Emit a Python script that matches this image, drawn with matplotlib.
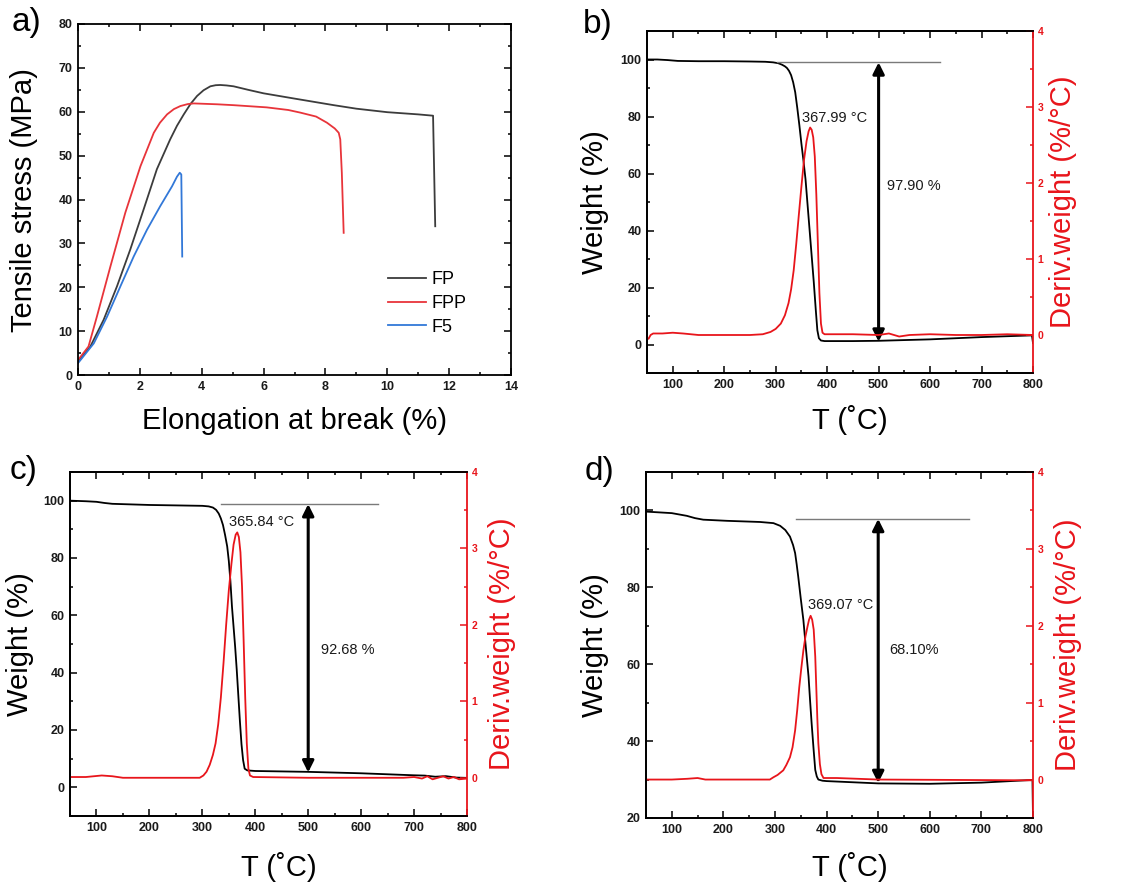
import matplotlib
matplotlib.use("Agg")
import matplotlib.pyplot as plt
from matplotlib.ticker import MultipleLocator

plt.rcParams['font.family'] = ['Liberation Sans', 'DejaVu Sans']

W, H = 1136, 886

#### Data

# a) tensile curves
fp_x = [0, 0.4, 0.83, 1.26, 1.69, 2.12, 2.55, 2.98, 3.2, 3.42, 3.64, 3.85, 4.06, 4.28, 4.45, 4.6, 4.8, 5.03, 5.5,
        6.0, 7.0, 8.27, 9.0, 10.0, 11.0, 11.48, 11.55]
fp_y = [3.0, 6.5, 12.6, 20.2, 28.6, 37.7, 46.9, 53.7, 56.8, 59.4, 61.8, 63.6, 64.9, 65.8, 66.05, 66.1, 66.0, 65.8,
        65.0, 64.2, 63.0, 61.5, 60.7, 59.9, 59.4, 59.1, 33.9]
fpp_x = [0, 0.34, 0.61, 1.05, 1.53, 2.02, 2.45, 2.65, 2.88, 3.1, 3.31, 3.55, 3.74, 4.5, 5.03, 6.1, 6.8, 7.19, 7.7,
         8.05, 8.3, 8.43, 8.48, 8.53, 8.59]
fpp_y = [3.4, 6.5, 13.3, 24.8, 37.0, 47.6, 55.2, 57.5, 59.4, 60.6, 61.3, 61.75, 61.9, 61.7, 61.5, 61.0, 60.4, 59.8,
         58.9, 57.5, 56.2, 55.2, 53.7, 46.1, 32.4]
f5_x = [0, 0.51, 0.94, 1.37, 1.8, 2.23, 2.66, 3.04, 3.2, 3.29, 3.34, 3.37]
f5_y = [2.7, 7.2, 13.3, 20.2, 27.0, 33.1, 38.5, 43.0, 45.2, 46.1, 45.7, 27.0]

# b) TGA / DTG
b_T = [50, 70, 90, 110, 150, 200, 250, 280, 295, 305, 312, 318, 322, 326, 330, 334, 338, 342, 346, 350, 354, 358,
       362, 366, 370, 374, 378, 381, 384, 388, 395, 450, 500, 600, 700, 798, 800]
b_w = [100.0, 100.0, 99.8, 99.5, 99.4, 99.4, 99.3, 99.2, 99.0, 98.7, 98.2, 97.6, 97.0, 96.0, 94.5, 92.0, 88.5, 83.0,
       77.0, 70.5, 64.5, 58.0, 49.0, 40.0, 31.0, 22.0, 12.0, 5.0, 2.2, 1.4, 1.2, 1.2, 1.3, 1.8, 2.6, 3.2, 0.5]
b_Td = [50, 53, 57, 62, 80, 100, 120, 150, 200, 250, 275, 290, 300, 310, 318, 325, 330, 335, 340, 345, 350, 355, 360,
        364, 367, 370, 373, 376, 379, 382, 385, 388, 391, 395, 450, 500, 520, 540, 560, 600, 650, 700, 750, 800]
b_d = [-0.04, -0.05, 0.0, 0.02, 0.02, 0.03, 0.02, 0.0, 0.0, 0.0, 0.01, 0.04, 0.08, 0.15, 0.26, 0.42, 0.6, 0.85, 1.2,
       1.58, 1.95, 2.3, 2.55, 2.68, 2.73, 2.7, 2.6, 2.35, 1.85, 1.2, 0.55, 0.15, 0.03, 0.01, 0.01, 0.0, 0.02, -0.02,
       0.0, 0.01, 0.0, 0.0, 0.01, 0.0]

# c) TGA / DTG
c_T = [50, 80, 100, 115, 130, 200, 300, 312, 320, 326, 331, 335, 339, 343, 347, 350, 353, 356, 359, 362, 365, 368,
       371, 374, 377, 380, 385, 400, 500, 600, 700, 720, 740, 760, 780, 800]
c_w = [100.0, 99.8, 99.6, 99.2, 98.9, 98.5, 98.2, 98.0, 97.6, 96.8, 95.5, 93.8, 91.5, 88.0, 84.0, 79.0, 72.0, 63.0,
       56.0, 49.0, 41.0, 32.0, 23.0, 15.0, 9.5, 6.5, 5.9, 5.7, 5.4, 4.9, 4.2, 4.1, 3.7, 3.9, 3.4, 3.3]
c_Td = [50, 80, 110, 130, 150, 200, 295, 302, 308, 314, 320, 325, 330, 335, 340, 345, 350, 355, 359, 363, 366, 369,
        372, 375, 378, 381, 384, 387, 390, 396, 500, 600, 680, 700, 715, 725, 735, 745, 755, 765, 775, 785, 800]
c_d = [0.01, 0.01, 0.03, 0.02, 0.0, 0.0, 0.0, 0.03, 0.08, 0.17, 0.3, 0.45, 0.7, 1.05, 1.5, 2.0, 2.45, 2.8, 3.05,
       3.18, 3.21, 3.15, 2.95, 2.5, 1.8, 1.05, 0.45, 0.12, 0.03, 0.01, 0.0, 0.0, 0.0, 0.01, -0.01, 0.02, -0.02, 0.0,
       0.02, -0.01, 0.01, -0.02, -0.01]

# d) TGA / DTG
d_T = [50, 75, 100, 129, 145, 161, 207, 271, 297, 310, 320, 329, 335, 339, 342, 345, 350, 355, 360, 365, 368, 371,
       375, 378, 381, 384, 392, 400, 500, 600, 700, 799, 800]
d_w = [99.7, 99.5, 99.3, 98.6, 98.0, 97.6, 97.3, 97.0, 96.7, 96.0, 94.9, 93.2, 91.0, 88.9, 86.0, 82.8, 77.0, 71.5,
       64.0, 56.8, 50.5, 44.6, 37.5, 32.5, 30.8, 30.0, 29.7, 29.6, 29.0, 28.9, 29.2, 29.9, 20.0]
d_Td = [50, 100, 130, 150, 165, 200, 290, 297, 305, 316, 322, 329, 334, 339, 343, 347, 351, 355, 359, 363, 366, 369,
        372, 375, 378, 380, 382, 384, 387, 390, 394, 420, 500, 800]
d_d = [0.0, 0.0, 0.01, 0.02, 0.0, 0.0, 0.0, 0.03, 0.06, 0.12, 0.19, 0.29, 0.42, 0.64, 0.9, 1.2, 1.45, 1.68, 1.86,
       1.99, 2.08, 2.13, 2.08, 1.95, 1.6, 1.2, 0.8, 0.47, 0.2, 0.07, 0.02, 0.02, 0.0, -0.01]

# annotation texts
b_peak, b_loss = "367.99 °C", "97.90 %"
c_peak, c_loss = "365.84 °C", "92.68 %"
d_peak, d_loss = "369.07 °C", "68.10%"

RED = "#e8151b"
LABEL_FS = 21


def box(l, t, r, b):
    return [l / W, 1 - b / H, (r - l) / W, (b - t) / H]


def fx(x):
    return x / W


def fy(y):
    return 1 - y / H


def style(ax, labelsize=9, color='#1a1a1a'):
    ax.tick_params(which='both', direction='in', top=True, width=1.1, pad=4)
    ax.tick_params(which='major', length=5)
    ax.tick_params(which='minor', length=2.5)
    for lab in ax.get_xticklabels() + ax.get_yticklabels():
        lab.set_fontsize(labelsize)
        lab.set_fontweight('bold')
        lab.set_color(color)
    for s in ax.spines.values():
        s.set_linewidth(1.3)


fig = plt.figure(figsize=(W / 100, H / 100), dpi=100)

#### a) tensile
ax = fig.add_axes(box(78, 24, 511, 375))
ax.plot(fp_x, fp_y, color="#3c3c3c", lw=1.3, label="FP")
ax.plot(fpp_x, fpp_y, color="#e8343a", lw=1.3, label="FPP")
ax.plot(f5_x, f5_y, color="#3278d8", lw=1.3, label="F5")
ax.set_xlim(0, 14)
ax.set_ylim(0, 80)
ax.xaxis.set_major_locator(MultipleLocator(2))
ax.xaxis.set_minor_locator(MultipleLocator(1))
ax.yaxis.set_major_locator(MultipleLocator(10))
ax.yaxis.set_minor_locator(MultipleLocator(5))
style(ax)
ax.tick_params(which='both', right=True)
ax.legend(loc='upper left', bbox_to_anchor=((388 - 78) / 433, (375 - 271) / 351),
          frameon=False, fontsize=13, handlelength=2.1, handletextpad=0.3,
          labelspacing=0.38, borderpad=0, borderaxespad=0)
fig.text(fx(24), fy(200), "Tensile stress (MPa)", rotation=90, ha='center', va='center', fontsize=LABEL_FS)
fig.text(fx(294), fy(421), "Elongation at break (%)", ha='center', va='center', fontsize=LABEL_FS)
fig.text(fx(12), fy(22), "a)", ha='left', va='center', fontsize=24)


#### TGA panels
def tga(bx, T, w, Td, d, ylo, line_y, line_x0, line_x1, arrow_lo, peak, peak_xy, loss, loss_xy,
        tag, tag_xy, ylab_x, rlab_x, xlab_y):
    l, t, r, b = bx
    ax = fig.add_axes(box(l, t, r, b))
    ax2 = ax.twinx()
    ax.plot(T, w, color='k', lw=1.3)
    ax2.plot(Td, d, color=RED, lw=1.3)
    ax.set_xlim(50, 800)
    ax.set_ylim(ylo, 110)
    ax.xaxis.set_major_locator(MultipleLocator(100))
    ax.xaxis.set_minor_locator(MultipleLocator(50))
    ax.yaxis.set_minor_locator(MultipleLocator(10))
    ax.set_yticks(list(range(max(ylo, 0), 101, 20)))
    ax.set_xticks(range(100, 801, 100))
    ax2.set_ylim(-0.5, 4)
    ax2.yaxis.set_minor_locator(MultipleLocator(0.5))
    ax2.set_yticks([0, 1, 2, 3, 4])
    style(ax)
    ax.tick_params(which='both', right=False)
    ax2.tick_params(which='both', direction='in', colors=RED, width=1.1)
    ax2.tick_params(which='major', length=5)
    ax2.tick_params(which='minor', length=2.5)
    for lab in ax2.get_yticklabels():
        lab.set_fontsize(7.5)
        lab.set_fontweight('bold')
    for s in ax2.spines.values():
        s.set_linewidth(1.3)
    ax2.spines['right'].set_color(RED)
    ax.spines['right'].set_visible(False)

    ax.plot([line_x0, line_x1], [line_y, line_y], color='#7a7a7a', lw=1)
    ax.annotate('', xy=(500, line_y), xytext=(500, arrow_lo),
                arrowprops=dict(arrowstyle='<|-|>', color='k', lw=2.2, mutation_scale=17,
                                shrinkA=0, shrinkB=0))
    ax.text(peak_xy[0], peak_xy[1], peak, ha='center', va='center', fontsize=10.5, color='#1a1a1a', zorder=5)
    ax.text(loss_xy[0], loss_xy[1], loss, ha='center', va='center', fontsize=10.5, color='#1a1a1a')

    fig.text(fx(ylab_x), fy((t + b) / 2), "Weight (%)", rotation=90, ha='center', va='center', fontsize=LABEL_FS)
    fig.text(fx(rlab_x), fy((t + b) / 2), "Deriv.weight (%/°C)", rotation=90, ha='center', va='center',
             fontsize=LABEL_FS, color=RED)
    fig.text(fx((l + r) / 2 + 10), fy(xlab_y), "T (˚C)", ha='center', va='center', fontsize=LABEL_FS)
    fig.text(fx(tag_xy[0]), fy(tag_xy[1]), tag, ha='left', va='center', fontsize=24)
    return ax


tga((647, 31, 1033, 373), b_T, b_w, b_Td, b_d, -10, 99.0, 303, 620, 1.0,
    b_peak, (414, 79.5), b_loss, (568, 55.7), "b)", (583, 25), 595, 1063, 420)
tga((70, 472, 467, 816), c_T, c_w, c_Td, c_d, -10, 98.8, 336, 631, 5.2,
    c_peak, (412, 92.5), c_loss, (574, 48), "c)", (10, 470), 20, 502, 867)
tga((646, 472, 1033, 818), d_T, d_w, d_Td, d_d, 20, 97.8, 341, 676, 29.1,
    d_peak, (428, 75.4), d_loss, (570, 63.7), "d)", (585, 472), 595, 1068, 867)

fig.savefig("out.png", dpi=100)
